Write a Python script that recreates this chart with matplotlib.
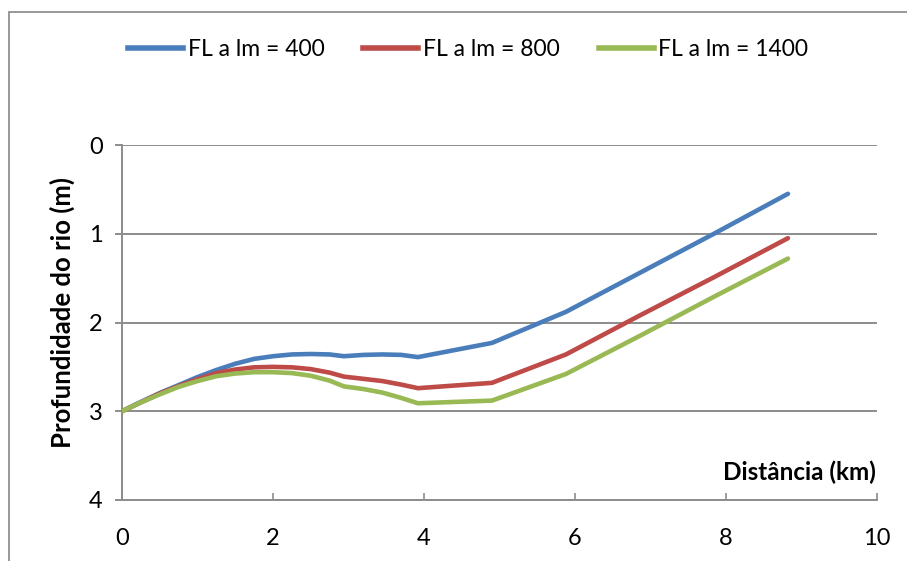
import matplotlib.pyplot as plt
from matplotlib.patches import Rectangle
from matplotlib.lines import Line2D

plt.rcParams['font.family'] = ['Lato', 'DejaVu Sans']

# distance along the river (km)
dist = [0, 0.25, 0.5, 0.75, 1.0, 1.25, 1.5, 1.75, 2.0, 2.25, 2.5, 2.75,
        2.94, 3.2, 3.45, 3.7, 3.92, 4.9, 5.88, 6.86, 7.84, 8.82]
# river depth (m) for each FL a lm
depth_400 = [3.0, 2.895, 2.795, 2.705, 2.615, 2.535, 2.465, 2.41, 2.38, 2.36,
             2.355, 2.36, 2.38, 2.365, 2.36, 2.365, 2.39, 2.23, 1.88, 1.44,
             1.00, 0.55]
depth_800 = [3.0, 2.90, 2.80, 2.715, 2.64, 2.57, 2.53, 2.505, 2.50, 2.505,
             2.525, 2.565, 2.61, 2.635, 2.66, 2.70, 2.74, 2.68, 2.36, 1.92,
             1.49, 1.05]
depth_1400 = [3.0, 2.90, 2.81, 2.725, 2.66, 2.605, 2.575, 2.56, 2.56, 2.57,
              2.60, 2.655, 2.72, 2.75, 2.79, 2.85, 2.91, 2.88, 2.58, 2.15,
              1.71, 1.28]

labels = ['FL a lm = 400', 'FL a lm = 800', 'FL a lm = 1400']
colors = ['#4A7EBB', '#BE4B48', '#98B954']
x_ticks = [0, 2, 4, 6, 8, 10]
y_ticks = [0, 1, 2, 3, 4]
grid_col = '#8C8C8C'

W, H = 907, 561
fig = plt.figure(figsize=(W / 100, H / 100), dpi=100)
ax = fig.add_axes([122 / W, 1 - 500 / H, 755 / W, 355 / H])

for ys, c, lab in zip([depth_400, depth_800, depth_1400], colors, labels):
    ax.plot(dist, ys, color=c, lw=3.3, solid_capstyle='round',
            solid_joinstyle='round', label=lab, zorder=3)

ax.set_xlim(0, 10)
ax.set_ylim(4, 0)
ax.set_xticks(x_ticks)
ax.set_yticks(y_ticks)
ax.yaxis.grid(True, color=grid_col, lw=1.4)
ax.set_axisbelow(True)
for s in ['top', 'right']:
    ax.spines[s].set_visible(False)
for s in ['left', 'bottom']:
    ax.spines[s].set_color(grid_col)
    ax.spines[s].set_linewidth(1.4)
ax.tick_params(axis='x', direction='in', length=5, width=1.2, color=grid_col,
               labelsize=17, pad=20)
ax.tick_params(axis='y', direction='out', length=5, width=1.4, color=grid_col,
               labelsize=17, pad=9)

ax.text(0.998, 0.045, 'Distância (km)', transform=ax.transAxes, ha='right',
        va='bottom', fontsize=17.5, fontweight='bold')
fig.text(62 / W, 1 - 313 / H, 'Profundidade do rio (m)', rotation=90,
         ha='center', va='center', fontsize=18.5, fontweight='bold')

handles = [Line2D([], [], color=c, lw=4) for c in colors]
fig.legend(handles, labels, loc='center', bbox_to_anchor=(468 / W, 1 - 50 / H),
           ncol=3, frameon=False, fontsize=16.5, handlelength=2.4,
           handletextpad=0.2, columnspacing=1.7)

# chart area border
fig.patches.append(Rectangle((9 / W, -0.1), 1.2, 1 - 12 / H + 0.1,
                             transform=fig.transFigure, fill=False,
                             edgecolor='#868686', lw=1.2))

fig.savefig('out.png', dpi=100)
